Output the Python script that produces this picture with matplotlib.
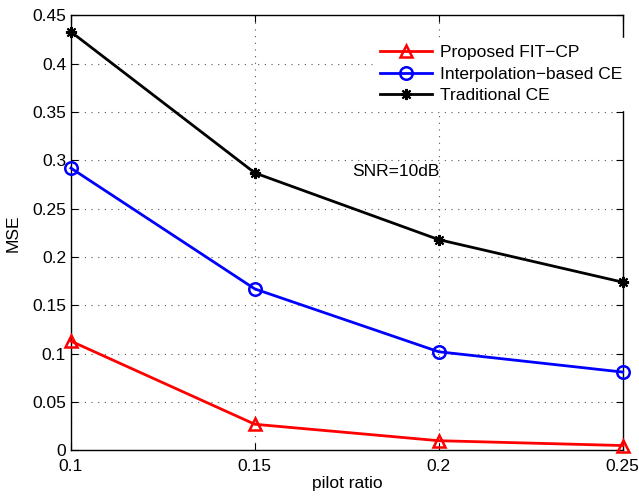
import matplotlib
matplotlib.use("Agg")
import matplotlib.pyplot as plt

plt.rcParams['font.family'] = ['Liberation Sans', 'DejaVu Sans']

pilot_ratio = [0.1, 0.15, 0.2, 0.25]
proposed = [0.113, 0.027, 0.010, 0.005]
interp = [0.292, 0.167, 0.102, 0.081]
traditional = [0.433, 0.287, 0.218, 0.174]
xticks = [0.1, 0.15, 0.2, 0.25]
yticks = [0, 0.05, 0.1, 0.15, 0.2, 0.25, 0.3, 0.35, 0.4, 0.45]

FS = 12.5

fig = plt.figure(figsize=(6.39, 4.96), dpi=100)
ax = fig.add_axes([0.111, 0.092, 0.8635, 0.877])

ax.plot(pilot_ratio, proposed, color='red', lw=2, marker='^', ms=9,
        mfc='none', mec='red', mew=1.8, label='Proposed FIT\u2212CP', clip_on=False, zorder=5)
ax.plot(pilot_ratio, interp, color='blue', lw=2, marker='o', ms=9,
        mfc='none', mec='blue', mew=1.8, label='Interpolation\u2212based CE', clip_on=False, zorder=5)
ax.plot(pilot_ratio, traditional, color='black', lw=2, marker=(8, 2, 0), ms=8,
        mec='black', mew=1.5, label='Traditional CE', clip_on=False, zorder=5)

ax.set_xlim(0.1, 0.25)
ax.set_ylim(0, 0.45)
ax.set_xticks(xticks)
ax.set_xticklabels(['0.1', '0.15', '0.2', '0.25'])
ax.set_yticks(yticks)
ax.set_yticklabels(['0', '0.05', '0.1', '0.15', '0.2', '0.25', '0.3', '0.35', '0.4', '0.45'])
ax.grid(True, linestyle=(0, (1, 5)), color='#555555', lw=0.8)
ax.tick_params(direction='in', top=True, right=True, labelsize=FS, length=5, width=0.8)
ax.tick_params(axis='x', pad=6)
for s in ax.spines.values():
    s.set_linewidth(1.0)

ax.set_xlabel('pilot ratio', fontsize=FS, labelpad=2)
ax.set_ylabel('MSE', fontsize=FS, labelpad=8)

ax.text(0.1764, 0.288, 'SNR=10dB', fontsize=FS, va='center', ha='left')

leg = ax.legend(loc='center left', bbox_to_anchor=(0.547, 0.865), frameon=True,
                fontsize=FS, handlelength=3.0, handletextpad=0.45, borderpad=0.4,
                labelspacing=0.38, borderaxespad=0, fancybox=False)
leg.get_frame().set_edgecolor('white')
leg.get_frame().set_facecolor('white')
leg.get_frame().set_alpha(1)

fig.savefig('out.png', dpi=100)
